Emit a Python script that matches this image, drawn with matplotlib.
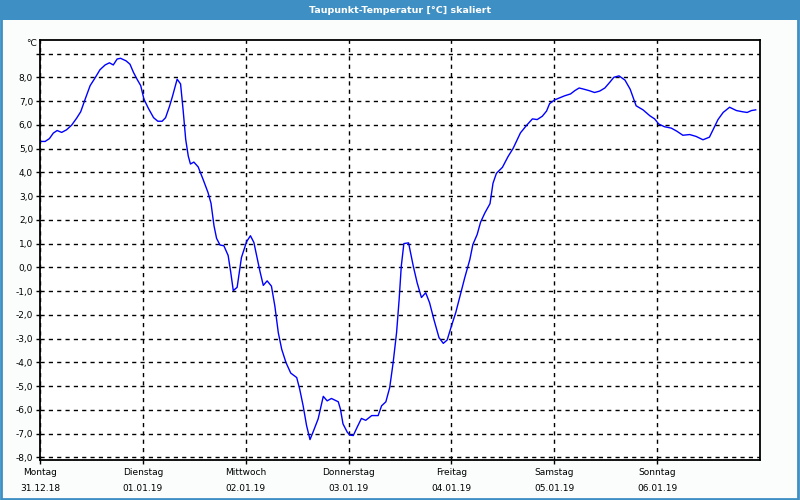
import matplotlib
matplotlib.use("Agg")
import matplotlib.pyplot as plt
from matplotlib.patches import Rectangle

# hours since Montag 31.12.18 00:00, dew point in °C
hours = [0, 1.2, 2.2, 3.1, 4.0, 5.05, 6.2, 7.4, 8.55, 9.5, 10.5, 11.7, 12.8, 14.0,
         15.2, 16.2, 17.1, 18.0, 18.8, 20.1, 21.0, 21.8, 22.7, 23.5, 24.25, 25.3,
         26.5, 27.5, 28.5, 29.3, 30.2, 30.9, 32.0, 32.8, 33.4, 34.0, 34.6, 35.1,
         35.9, 36.9, 38.1, 39.2, 39.9, 40.6, 41.2, 42.0, 42.9, 43.9, 44.5, 45.1,
         46.0, 46.5, 47.0, 48.2, 49.1, 49.9, 50.7, 51.3, 52.1, 53.0, 54.0, 54.8,
         55.6, 56.4, 57.4, 58.5, 59.9, 60.6, 61.4, 62.2, 63.0, 63.7, 64.9, 66.1,
         67.0, 68.0, 69.6, 70.1, 70.7, 71.7, 72.3, 73.1, 74.0, 75.0, 76.0, 77.4,
         78.9, 79.7, 80.7, 81.6, 82.4, 83.2, 83.8, 84.3, 84.9, 86.0, 87.1, 88.0,
         89.0, 90.0, 90.9, 91.9, 93.1, 94.1, 95.0, 96.0, 97.0, 98.1, 99.1, 100.3,
         101.0, 102.0, 102.8, 103.8, 105.0, 105.7, 106.5, 107.9, 109.2, 110.4,
         111.3, 112.1, 113.5, 114.9, 116.0, 117.2, 118.2, 118.9, 120.1, 121.3,
         122.4, 123.8, 124.8, 125.8, 126.9, 128.1, 129.4, 130.6, 131.8, 132.9,
         133.9, 135.1, 136.5, 137.7, 138.5, 139.1, 140.7, 142.3, 143.4, 144.4,
         145.7, 147.3, 148.6, 150.0, 151.6, 153.1, 154.7, 156.2, 157.0, 158.2,
         159.4, 160.9, 162.5, 163.9, 165.0, 166.0, 167.0]
taupunkt = [5.30, 5.30, 5.42, 5.65, 5.76, 5.68, 5.79, 5.99, 6.28, 6.55, 7.06, 7.65,
            7.96, 8.32, 8.52, 8.61, 8.52, 8.77, 8.80, 8.69, 8.55, 8.21, 7.90, 7.65,
            7.08, 6.69, 6.30, 6.15, 6.15, 6.30, 6.77, 7.19, 7.92, 7.72, 6.61, 5.38,
            4.68, 4.35, 4.43, 4.23, 3.68, 3.15, 2.70, 1.75, 1.22, 0.94, 0.91, 0.50,
            -0.20, -0.98, -0.84, -0.20, 0.41, 1.08, 1.33, 1.05, 0.36, -0.15, -0.76,
            -0.57, -0.79, -1.63, -2.75, -3.45, -4.01, -4.45, -4.64, -5.13, -5.83,
            -6.66, -7.25, -6.94, -6.38, -5.43, -5.62, -5.52, -5.66, -5.97, -6.59,
            -6.94, -7.06, -7.08, -6.73, -6.36, -6.44, -6.24, -6.24, -5.83, -5.66,
            -5.06, -4.01, -2.75, -1.35, 0.05, 1.00, 1.03, 0.05, -0.65, -1.27, -1.07,
            -1.49, -2.19, -2.96, -3.20, -3.06, -2.47, -1.91, -1.14, -0.44, 0.33,
            0.96, 1.38, 1.90, 2.29, 2.68, 3.54, 3.96, 4.21, 4.66, 5.01, 5.35, 5.66,
            5.97, 6.25, 6.22, 6.36, 6.58, 6.89, 7.05, 7.14, 7.22, 7.30, 7.44, 7.55,
            7.50, 7.44, 7.36, 7.42, 7.55, 7.78, 8.00, 8.06, 7.88, 7.50, 7.10, 6.80,
            6.63, 6.38, 6.25, 6.03, 5.92, 5.86, 5.73, 5.56, 5.59, 5.51, 5.37, 5.48,
            5.78, 6.22, 6.52, 6.74, 6.60, 6.55, 6.52, 6.60, 6.63]

wochentage = ["Montag", "Dienstag", "Mittwoch", "Donnerstag", "Freitag", "Samstag", "Sonntag"]
daten = ["31.12.18", "01.01.19", "02.01.19", "03.01.19", "04.01.19", "05.01.19", "06.01.19"]
y_ticks = list(range(-8, 10))

blau = "#3d8fc4"
fig = plt.figure(figsize=(8, 5), dpi=100, facecolor="#fbfdfd")

# title bar and frame
fig.patches.append(Rectangle((0, 0.96), 1, 0.04, transform=fig.transFigure,
                             facecolor=blau, edgecolor="none"))
fig.patches.append(Rectangle((0.001, 0.002), 0.997, 0.997, transform=fig.transFigure,
                             facecolor="none", edgecolor=blau, linewidth=2))
fig.text(0.5, 0.979, "Taupunkt-Temperatur [°C] skaliert", color="white",
         fontsize=6.8, fontweight="bold", ha="center", va="center")

ax = fig.add_axes([0.05, 0.08, 0.90, 0.84])
ax.set_facecolor("white")
ax.plot(hours, taupunkt, color="#0000ff", linewidth=1)

ax.set_xlim(0, 168)
ax.set_ylim(-8.11, 9.57)

ax.set_yticks(y_ticks)
ax.set_yticklabels([f"{v},0" if v < 9 else "" for v in y_ticks], fontsize=6.5)
ax.set_xticks([24 * i for i in range(7)])
ax.set_xticklabels([f"{w}\n{d}" for w, d in zip(wochentage, daten)], fontsize=6.5,
                   linespacing=1.9)
ax.tick_params(axis="x", length=3, pad=3, width=1)
ax.tick_params(axis="y", length=3, pad=2, width=1)

ax.grid(True, color="black", linestyle=(0, (3, 3)), linewidth=1)
for s in ax.spines.values():
    s.set_linewidth(1.3)
    s.set_color("black")

ax.text(-0.7, 9.25, "°C", fontsize=6.5, ha="right", va="bottom")

fig.savefig("out.png", dpi=100, facecolor=fig.get_facecolor())
